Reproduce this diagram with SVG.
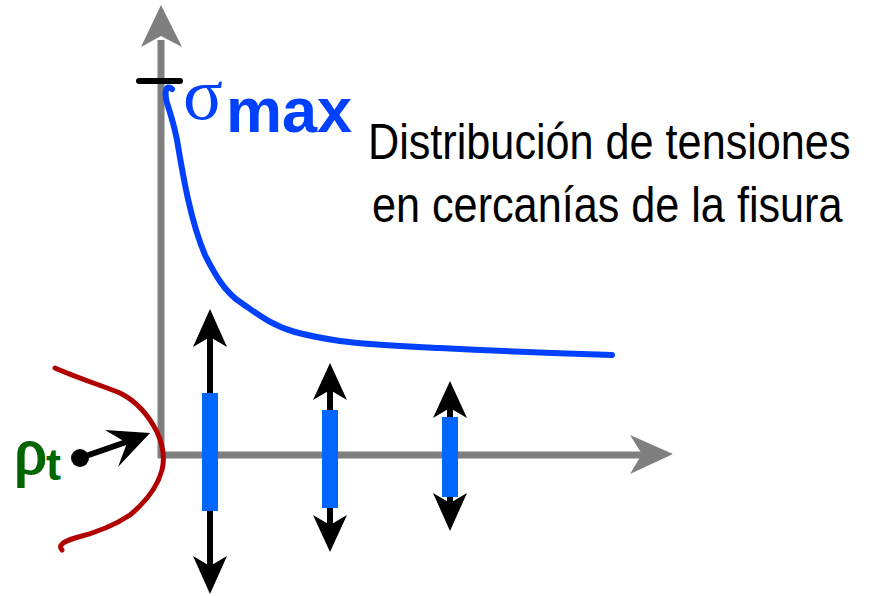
<svg xmlns="http://www.w3.org/2000/svg" width="871" height="596" viewBox="0 0 871 596">
<style>
.axis{stroke:#7f7f7f;stroke-width:7;fill:none}
.axhead{fill:#7f7f7f}
.shaft{stroke:#000;stroke-width:6;fill:none}
.head{fill:#000}
.bar{fill:#0066ff}
.curve{stroke:#0040ff;stroke-width:6;fill:none;stroke-linecap:round;stroke-linejoin:round}
.crack{stroke:#b00000;stroke-width:5;fill:none;stroke-linecap:round;stroke-linejoin:round}
.title{font-family:"Liberation Sans",Arial,sans-serif;font-size:43.2px;fill:#000}
</style>
<rect width="871" height="596" fill="#fff"/>
<g id="axes">
<line class="axis" x1="161" y1="458" x2="161" y2="40"/>
<path class="axhead" d="M161,5 L182,47 L161,36 L141,47 Z"/>
<line class="axis" x1="158" y1="455" x2="645" y2="455"/>
<path class="axhead" d="M673,454 L630,474 L642,454 L630,435 Z"/>
</g>
<g id="tick">
<line x1="139" y1="81" x2="180" y2="81" stroke="#000" stroke-width="6" stroke-linecap="round"/>
</g>
<g id="stress-curve">
<path class="curve" d="M172,89 C166,84 164,92 167,103 C171,115 174,125 177,140 C182,170 190,220 205,255 C215,275 225,292 240,302 C255,312 270,325 295,332 C310,336 320,338 340,341 C370,345 400,346 440,348 C500,351 550,353 612,355"/>
</g>
<g id="sigma-max">
<text x="183" y="119" font-family="Liberation Serif,serif" font-size="74" fill="#0040ff">σ</text>
<text x="226" y="132" font-family="Liberation Sans,Arial,sans-serif" font-weight="bold" font-size="63" fill="#0040ff">max</text>
</g>
<g id="title">
<text class="title" transform="translate(368,159) scale(1,1.16)">Distribución de tensiones</text>
<text class="title" transform="translate(372,222) scale(1,1.16)">en cercanías de la fisura</text>
</g>
<g id="crack">
<path class="crack" d="M55,368 C75,377 100,385 120,393 C138,402 150,418 157,432 C163,445 165,458 162,470 C158,485 148,500 130,515 C115,525 95,533 75,538 C62,542 58,546 62,550"/>
</g>
<g id="rho">
<circle cx="80" cy="458" r="9" fill="#000"/>
<line class="shaft" x1="80" y1="458" x2="132" y2="440"/>
<path class="head" d="M150,433 L118,467 L127,443 L105,430 Z"/>
<text x="14" y="473" font-family="Liberation Serif,serif" font-size="66" fill="#006600"><tspan stroke="#006600" stroke-width="2">ρ</tspan><tspan x="46" y="480" font-family="Liberation Sans,Arial,sans-serif" font-weight="bold" font-size="45">t</tspan></text>
</g>
<g id="connectors">
<line class="shaft" x1="210" y1="335" x2="210" y2="568"/>
<path class="head" d="M210,309 L227,347 L210,337 L193,347 Z"/>
<path class="head" d="M210,594 L227,556 L210,566 L193,556 Z"/>
<line class="shaft" x1="330" y1="390" x2="330" y2="528"/>
<path class="head" d="M330,363 L347,400 L330,390 L313,400 Z"/>
<path class="head" d="M330,552 L347,515 L330,525 L313,515 Z"/>
<line class="shaft" x1="450" y1="408" x2="450" y2="505"/>
<path class="head" d="M450,381 L467,418 L450,408 L433,418 Z"/>
<path class="head" d="M450,531 L467,493 L450,503 L433,493 Z"/>
</g>
<g id="bars">
<rect class="bar" x="202" y="393" width="16" height="118"/>
<rect class="bar" x="322" y="410" width="16" height="98"/>
<rect class="bar" x="442" y="417" width="16" height="80"/>
</g>
</svg>
